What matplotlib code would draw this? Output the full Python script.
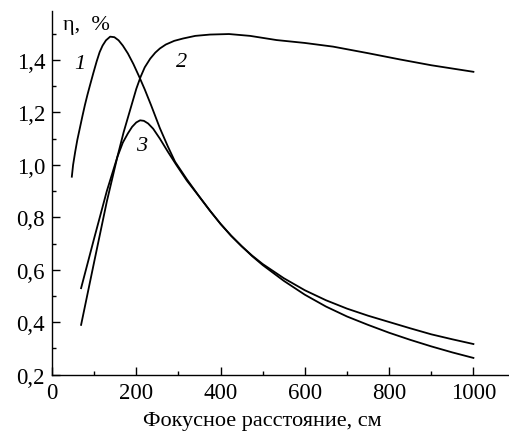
import numpy as np
import matplotlib
matplotlib.use('Agg')
import matplotlib.pyplot as plt
from matplotlib.ticker import MultipleLocator, FuncFormatter

plt.rcParams['font.family'] = ['Liberation Serif', 'DejaVu Serif']

# curve 1 (sharp early peak)
x1 = [47, 50, 55, 60, 66, 72, 78, 84, 90, 98, 106, 113, 120, 128, 138, 148, 158,
      168, 180, 193, 207, 220, 235, 256, 275, 292, 320, 350, 375, 400, 425, 450,
      475, 500, 550, 600, 650, 700, 750, 800, 850, 900, 950, 1000]
y1 = [0.955, 1.0, 1.05, 1.095, 1.14, 1.185, 1.228, 1.267, 1.303, 1.35, 1.395,
      1.43, 1.455, 1.475, 1.489, 1.487, 1.475, 1.455, 1.425, 1.385, 1.336, 1.288,
      1.228, 1.14, 1.07, 1.012, 0.945, 0.878, 0.825, 0.775, 0.73, 0.69, 0.652,
      0.618, 0.558, 0.505, 0.46, 0.422, 0.39, 0.36, 0.333, 0.308, 0.285, 0.264]

# curve 2 (broad plateau)
x2 = [69, 100, 130, 155, 170, 180, 190, 200, 210, 220, 233, 245, 256, 270, 290,
      311, 340, 375, 420, 470, 533, 600, 667, 750, 826, 900, 1000]
y2 = [0.39, 0.63, 0.86, 1.03, 1.125, 1.18, 1.235, 1.29, 1.335, 1.372, 1.405,
      1.428, 1.444, 1.459, 1.473, 1.482, 1.492, 1.497, 1.499, 1.492, 1.476,
      1.465, 1.451, 1.426, 1.402, 1.38, 1.355]

# curve 3 (lower peak)
x3 = [69, 100, 130, 155, 168, 180, 190, 200, 209, 218, 228, 240, 256, 275, 295,
      320, 350, 375, 400, 425, 450, 475, 500, 550, 600, 650, 700, 750, 800, 850,
      900, 950, 1000]
y3 = [0.53, 0.72, 0.90, 1.03, 1.085, 1.12, 1.145, 1.162, 1.17, 1.168, 1.158,
      1.138, 1.10, 1.05, 1.00, 0.94, 0.878, 0.825, 0.775, 0.73, 0.69, 0.654,
      0.622, 0.568, 0.522, 0.484, 0.452, 0.425, 0.401, 0.377, 0.354, 0.335, 0.317]

curve_labels = ['1', '2', '3']
label_pos = [(66, 1.385), (308, 1.395), (213, 1.075)]

fig = plt.figure(figsize=(5.1, 4.35), dpi=100)
ax = fig.add_axes([0.102, 0.1363, 0.894, 0.835])

for xs, ys in [(x1, y1), (x2, y2), (x3, y3)]:
    ax.plot(xs, ys, color='black', lw=1.3)

for lab, (lx, ly) in zip(curve_labels, label_pos):
    ax.text(lx, ly, lab, fontsize=16, style='italic', ha='center', va='center')

ax.set_xlim(0, 1082)
ax.set_ylim(0.2, 1.585)
ax.spines['top'].set_visible(False)
ax.spines['right'].set_visible(False)
for s in ['left', 'bottom']:
    ax.spines[s].set_linewidth(1.0)

ax.xaxis.set_major_locator(MultipleLocator(200))
ax.xaxis.set_minor_locator(MultipleLocator(100))
ax.yaxis.set_major_locator(MultipleLocator(0.2))
ax.yaxis.set_minor_locator(MultipleLocator(0.1))
ax.yaxis.set_major_formatter(FuncFormatter(lambda v, p: f'{v:.1f}'.replace('.', ',')))
ax.tick_params(which='both', direction='in', width=1.0, labelsize=16.5, pad=5)
ax.tick_params(which='major', length=5.5)
ax.tick_params(which='minor', length=3)

ax.set_xlabel('Фокусное расстояние, см', fontsize=16)
ax.xaxis.set_label_coords(500 / 1082, -0.1)
ax.text(0.024, 0.99, 'η,  %', transform=ax.transAxes, fontsize=16, ha='left', va='top')

fig.savefig('out.png', dpi=100)
